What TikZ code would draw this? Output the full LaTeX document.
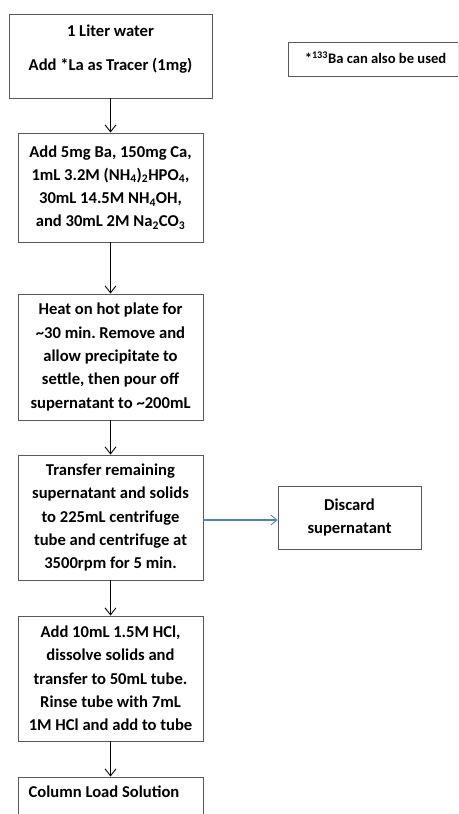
\documentclass[tikz,border=0pt]{standalone}
\usepackage{fontspec}
\setmainfont{Carlito}
\usetikzlibrary{arrows.meta}
\frenchspacing
\definecolor{boxgray}{HTML}{595959}
\definecolor{officeblue}{HTML}{4F81BD}
\newcommand{\sbs}[1]{\textsubscript{#1}}
\tikzset{
  box/.style={draw=boxgray, line width=0.9pt, inner sep=0pt},
  txt/.style={font=\fontsize{16.6}{23.3}\selectfont\bfseries, align=center, inner sep=0pt},
  notetxt/.style={font=\fontsize{14.6}{18}\selectfont\bfseries, align=center, inner sep=0pt},
  flow/.style={-{Straight Barb[length=7pt,width=11pt,line width=0.9pt]}, line width=0.9pt, black},
  side/.style={-{Straight Barb[length=6pt,width=10pt,line width=0.9pt]}, line width=1.2pt, officeblue},
}
\begin{document}
\begin{tikzpicture}[x=1pt,y=-1pt]
\useasboundingbox (0,0) rectangle (458,814);
\clip (0,0) rectangle (458,814);
% boxes
\node[box, minimum width=203pt, minimum height=84pt] (b1) at (110.5,56) {};
\node[txt] (b1t) at (110.5,31) {1 Liter water};
\node[txt] (b1u) at (110.5,66) {Add *La as Tracer (1mg)};
\node[box, minimum width=170pt, minimum height=34pt] (note) at (373,59.7) {};
\node[notetxt] (notet) at (375.5,58) {*\textsuperscript{133}Ba can also be used};

\node[box, minimum width=185pt, minimum height=109pt, txt] (b2) at (110.5,187.5)
  {Add 5mg Ba, 150mg Ca,\\1mL 3.2M (NH\sbs{4})\sbs{2}HPO\sbs{4},\\30mL 14.5M NH\sbs{4}OH,\\and 30mL 2M Na\sbs{2}CO\sbs{3}};
\node[box, minimum width=185pt, minimum height=126pt, txt] (b3) at (110.5,357)
  {Heat on hot plate for\\\textasciitilde30 min. Remove and\\allow precipitate to\\settle, then pour off\\supernatant to \textasciitilde200mL};
\node[box, minimum width=185pt, minimum height=125pt, txt] (b4) at (110.5,517.5)
  {Transfer remaining\\supernatant and solids\\to 225mL centrifuge\\tube and centrifuge at\\3500rpm for 5 min.};
\node[box, minimum width=143pt, minimum height=63pt, txt] (d) at (349.5,517.5)
  {Discard\\supernatant};
\node[box, minimum width=185pt, minimum height=125pt, txt] (b5) at (110.5,678.5)
  {Add 10mL 1.5M HCl,\\dissolve solids and\\transfer to 50mL tube.\\Rinse tube with 7mL\\1M HCl and add to tube};
\node[box, minimum width=185pt, minimum height=60pt] (b6) at (110.5,807) {};
\node[txt] (b6t) at (104,792) {Column Load Solution};

% connectors
\draw[flow] (b1.south) -- (b2.north);
\draw[flow] (b2.south) -- (b3.north);
\draw[flow] (b3.south) -- (b4.north);
\draw[side] (b4.east |- 0,520) -- (d.west |- 0,520);
\draw[flow] (b4.south) -- (b5.north);
\draw[flow] (b5.south) -- (b6.north);
\end{tikzpicture}
\end{document}
